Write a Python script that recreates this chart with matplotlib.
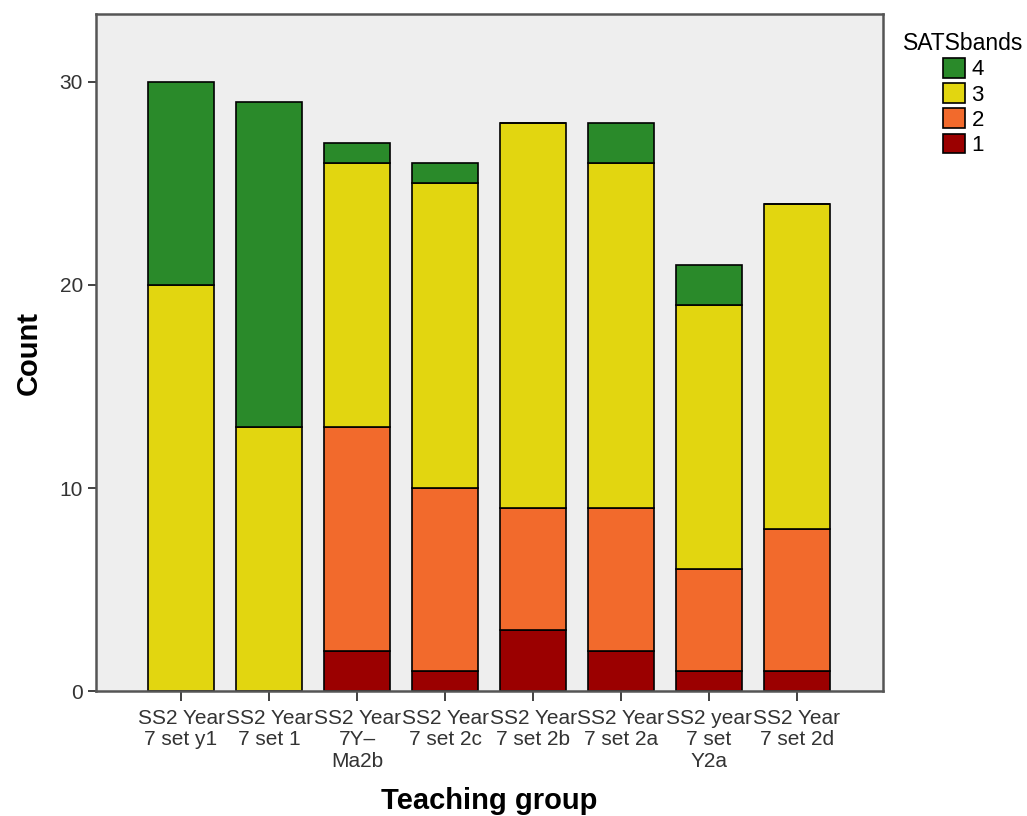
import numpy as np
import matplotlib
matplotlib.use("Agg")
import matplotlib.pyplot as plt
from matplotlib.patches import Patch

plt.rcParams['font.family'] = ['Liberation Sans', 'DejaVu Sans']

groups = ['SS2 Year\n7 set y1', 'SS2 Year\n7 set 1', 'SS2 Year\n7Y\u2013\nMa2b',
          'SS2 Year\n7 set 2c', 'SS2 Year\n7 set 2b', 'SS2 Year\n7 set 2a',
          'SS2 year\n7 set\nY2a', 'SS2 Year\n7 set 2d']
band1 = [0, 0, 2, 1, 3, 2, 1, 1]
band2 = [0, 0, 11, 9, 6, 7, 5, 7]
band3 = [20, 13, 13, 15, 19, 17, 13, 16]
band4 = [10, 16, 1, 1, 0, 2, 2, 0]

bands = ['1', '2', '3', '4']
colors = ['#9b0000', '#f26a2c', '#e2d610', '#2a8a2a']

fig = plt.figure(figsize=(10.27, 8.16), dpi=100)
ax = fig.add_axes([0.0935, 0.153, 0.7665, 0.830])
ax.set_facecolor('#eeeeee')

x = np.arange(len(groups))
bottom = np.zeros(len(groups))
for vals, c in zip([band1, band2, band3, band4], colors):
    vals = np.array(vals)
    ax.bar(x, vals, width=0.76, bottom=bottom, color=c, edgecolor='black', linewidth=1.2)
    bottom += vals

ax.set_xlim(-0.966, 7.98)
ax.set_ylim(0, 33.35)
ax.set_yticks([0, 10, 20, 30])
ax.set_xticks(x)
ax.set_xticklabels(groups, fontsize=15, linespacing=1.15)
ax.tick_params(axis='y', labelsize=15, length=6, width=1.3, colors='#333333')
ax.tick_params(axis='x', length=7, width=1.3, colors='#333333', pad=6)
for s in ax.spines.values():
    s.set_color('#555555')
    s.set_linewidth(1.8)

ax.set_xlabel('Teaching group', fontsize=21, fontweight='bold', labelpad=12)
ax.set_ylabel('Count', fontsize=21, fontweight='bold', labelpad=12)

handles = [Patch(facecolor=c, edgecolor='black', linewidth=1.2, label=b) for b, c in zip(bands, colors)]
leg = fig.legend(handles=handles[::-1], title='SATSbands', loc='upper left',
                 bbox_to_anchor=(0.860, 0.985), frameon=False, fontsize=16,
                 title_fontsize=16.5, handlelength=1.0, handleheight=1.0,
                 handletextpad=0.3, labelspacing=0.12)
leg._legend_box.align = 'center'

fig.savefig('out.png', dpi=100)
